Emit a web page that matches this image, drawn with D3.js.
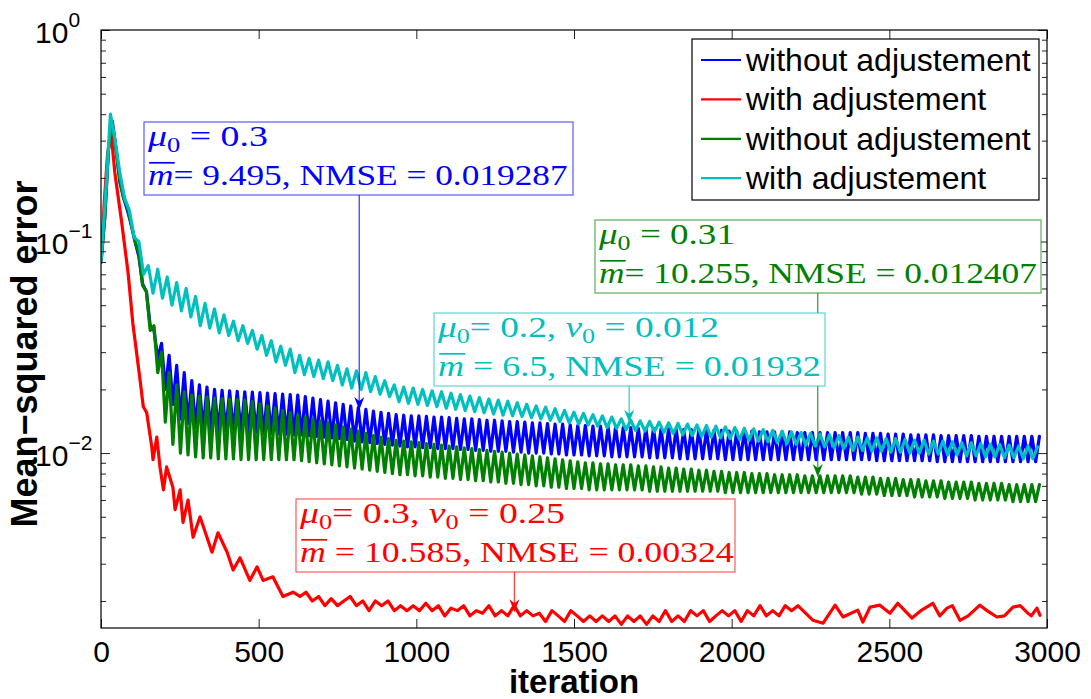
<!DOCTYPE html>
<html><head><meta charset="utf-8">
<script src="https://cdn.jsdelivr.net/npm/d3@7"></script>
<style>body{margin:0;background:#fff}</style>
</head><body>
<svg id="chart" width="1091" height="699"></svg>
<script>
// ---------------- DATA ----------------
const xTicks = [0, 500, 1000, 1500, 2000, 2500, 3000];
const yDecades = [0.01, 0.1, 1];
const yDecadeExp = ["\u22122", "\u22121", "0"];
const yDomain = [0.00149, 1];
const xDomain = [0, 3000];

const seriesNames = ["without adjustement", "with adjustement", "without adjustement", "with adjustement"];
const seriesColors = ["#0000ff", "#ff0000", "#008000", "#00bfbf"];

// blue: sampled every 12 iterations
const blueStep = 12;
const blueMSE = [0.080,0.13,0.28,0.37,0.27,0.19,0.16,0.14,0.12,0.10,0.085,0.063,0.058,0.040,
0.038,0.028,0.033,0.020,0.029,0.017,0.026,0.0145,0.024,0.0138,0.022,0.0132,0.021,0.0128,
0.0205,0.0128,0.0200,0.0127,0.0198,0.0127,0.0197,0.0126,0.0196,0.0126,0.0195,0.0125,0.0194,0.0125,0.0193,0.0124,0.0192,0.0124,0.0191,0.0123,0.0190,0.0123,0.0189,0.0122,0.0188,0.0122,
0.0185,0.0121,0.0182,0.0120,0.0179,0.0119,0.0176,0.0118,0.0173,0.0117,0.0170,0.0116,0.0167,0.0114,0.0164,0.0113,0.0161,0.0112,0.0158,0.0111,0.0156,0.0110,0.0154,0.0109,0.0152,0.0108,
0.0151,0.0107,0.0150,0.0107,0.0150,0.0106,0.0149,0.0106,0.0148,0.0105,0.0148,0.0105,0.0147,0.0105,0.0146,0.0104,0.0145,0.0104,0.0145,0.0103,0.0144,0.0103,0.0143,0.0102,0.0143,0.0102,0.0142,0.0102,0.0141,0.0101,0.0141,0.0101,0.0140,0.0100,0.0139,0.0100,0.0139,0.0100,0.0138,0.0099,0.0137,0.0099,0.0137,0.0098,0.0136,0.0098,0.0135,0.0098,0.0135,0.0097,0.0134,0.0097,0.0134,0.0097,0.0133,0.0096,0.0133,0.0096,0.0132,0.0096,0.0132,
0.0096,0.0131,0.0096,0.0131,0.0095,0.0131,0.0095,0.0130,0.0095,0.0130,0.0095,0.0130,0.0094,0.0129,0.0094,0.0129,0.0094,0.0129,0.0094,0.0128,0.0094,0.0128,0.0094,0.0128,0.0093,0.0127,0.0093,0.0127,0.0093,0.0127,0.0093,0.0127,0.0093,0.0126,0.0093,0.0126,0.0093,0.0126,0.0093,0.0126,0.0093,0.0126,0.0093,0.0125,0.0093,0.0125,0.0093,0.0125,0.0093,0.0125,0.0093,0.0125,0.0093,0.0125,0.0093,0.0125,0.0093,
0.0125,0.0093,0.0125,0.0093,0.0124,0.0093,0.0124,0.0092,0.0124,0.0092,0.0123,0.0092,0.0123,0.0092,0.0123,0.0092,0.0122,0.0092,0.0122,0.0092,0.0122,0.0092,0.0122,0.0091,0.0121,0.0091,0.0121,0.0091,0.0121,0.0091,0.0121,0.0091,0.0121,0.0091,0.0120,0.0091,0.0120,0.0091,0.0120,0.0091,0.0120,0.0091,0.0120,0.0091,0.0120,0.0091,0.0120,0.0091,0.0120,0.0091,0.0120];

// red: irregular samples
const redIter = [0,10,20,32,44,66,86,101,124,134,145,161,165,177,187,198,208,228,235,251,260,276,292,314,336,352,371,400,419,441,472,495,514,545,577,609,631,
650,670,690,710,730,750,770,790,810,830,850,870,890,910,930,950,970,990,1010,1030,1050,1070,1090,1110,1130,1150,1170,1190,1210,1230,1250,1270,1290,1310,1330,1350,1370,1390,1410,1430,1450,1470,1490,1510,1530,1550,1570,1590,1610,1630,1650,1670,1690,1710,1730,1750,1770,1790,1810,1830,1850,1870,1890,1910,1930,1950,1970,1990,2010,2030,2050,2070,2090,2110,2130,2150,2170,2190,2210,
2258,2290,2328,2353,2400,2416,2439,2470,2502,2527,2572,2600,2638,2660,2683,2700,2724,2750,2787,2810,2841,2865,2892,2915,2936,2950,2968,2978];
const redMSE = [0.080,0.15,0.25,0.325,0.211,0.122,0.071,0.041,0.0221,0.0166,0.0155,0.0107,0.0093,0.0119,0.0086,0.0067,0.0086,0.0069,0.0054,0.0067,0.0047,0.0060,0.0040,0.0050,0.0040,0.0034,0.0042,0.0034,0.0028,0.0032,0.0025,0.0029,0.0025,0.0026,0.0021,0.0022,0.0021,
0.0022,0.0020,0.0021,0.0019,0.00205,0.0019,0.0020,0.0021,0.0019,0.0020,0.0018,0.0020,0.0019,0.0020,0.0018,0.0019,0.0018,0.0019,0.0018,0.00195,0.0018,0.0019,0.0017,0.00185,0.0018,0.0019,0.0017,0.0018,0.00175,0.0019,0.0017,0.0018,0.0017,0.0019,0.0017,0.0018,0.0017,0.00175,0.0016,0.0018,0.0017,0.0016,0.0018,0.0017,0.0016,0.0017,0.0016,0.0017,0.0016,0.0017,0.00155,0.0017,0.0016,0.0017,0.00155,0.0017,0.0016,0.0018,0.0016,0.0017,0.0016,0.0018,0.0017,0.0018,0.0016,0.0017,0.0018,0.0017,0.0018,0.0016,0.0018,0.0017,0.0019,0.0017,0.0018,0.0017,0.0019,0.0018,0.0019,
0.00162,0.00157,0.00191,0.00168,0.00181,0.00159,0.00187,0.00191,0.00175,0.00195,0.00166,0.0018,0.00195,0.0017,0.00185,0.0019,0.00162,0.0017,0.00191,0.0018,0.00168,0.0017,0.00187,0.0019,0.00177,0.0017,0.00185,0.00171];

// green: sampled every 12 iterations
const greenStep = 12;
const greenMSE = [0.080,0.13,0.28,0.36,0.27,0.195,0.16,0.145,0.12,0.10,0.088,0.062,0.058,0.038,
0.040,0.024,0.030,0.014,0.024,0.011,0.021,0.0100,0.0195,0.0098,0.0188,0.0096,
0.0186,0.0095,0.0184,0.0095,0.0182,0.0094,0.0181,0.0094,0.0180,0.0094,0.0179,0.0093,0.0178,0.0093,
0.0175,0.0093,0.0171,0.0093,0.0167,0.0093,0.0163,0.0093,0.0159,0.0093,0.0155,0.0093,0.0151,0.0092,
0.0148,0.0091,0.0145,0.0090,0.0142,0.0089,0.0139,0.0088,0.0136,0.0087,0.0133,0.0086,0.0130,0.0085,0.0127,0.0084,0.0124,0.0083,0.0121,0.0082,0.0119,0.0081,0.0117,0.0080,0.0115,0.0079,
0.0114,0.0079,0.0113,0.0078,0.0112,0.0078,0.0111,0.0077,0.0110,0.0077,0.0109,0.0076,0.0108,0.0076,0.0107,0.0075,0.0106,0.0075,0.0105,0.0074,0.0104,0.0074,0.0103,0.0073,0.0102,0.0073,0.0101,0.0072,0.0100,0.0072,0.0099,0.0071,0.0098,0.0071,0.0097,0.0070,0.0096,0.0070,0.0095,0.0069,0.0094,0.0069,0.0093,0.0068,0.0092,0.0068,0.0091,0.0068,0.0090,0.0067,0.0090,0.0067,0.0089,0.0067,0.0089,0.0067,0.0088,0.0067,0.0088,0.0067,0.0088,
0.0067,0.0087,0.0067,0.0087,0.0066,0.0086,0.0066,0.0086,0.0066,0.0085,0.0066,0.0085,0.0066,0.0084,0.0066,0.0084,0.0066,0.0083,0.0066,0.0083,0.0066,0.0082,0.0066,0.0082,0.0065,0.0081,0.0065,0.0081,0.0065,0.0081,0.0065,0.0080,0.0065,0.0080,0.0065,0.0080,0.0065,0.0079,0.0065,0.0079,0.0065,0.0079,0.0065,0.0079,0.0065,0.0078,0.0065,0.0078,0.0065,0.0078,0.0065,0.0078,0.0065,0.0078,0.0065,0.0078,0.0065,
0.0078,0.0065,0.0077,0.0064,0.0077,0.0064,0.0077,0.0064,0.0076,0.0063,0.0076,0.0063,0.0076,0.0063,0.0075,0.0063,0.0075,0.0062,0.0075,0.0062,0.0074,0.0062,0.0074,0.0062,0.0074,0.0061,0.0073,0.0061,0.0073,0.0061,0.0073,0.0061,0.0073,0.0060,0.0072,0.0060,0.0072,0.0060,0.0072,0.0060,0.0072,0.0060,0.0071,0.0059,0.0071,0.0059,0.0071,0.0059,0.0071,0.0059,0.0071];

// cyan: sampled every 15 iterations
const cyanStep = 15;
const cyanMSE = [0.080,0.17,0.40,0.30,0.21,0.16,0.14,0.105,0.100,0.070,
0.077,0.057,0.074,0.054,0.068,0.050,0.064,0.047,0.060,0.044,0.055,0.040,0.051,0.039,0.048,0.037,0.045,0.036,0.042,0.034,0.040,0.033,0.038,0.031,0.036,0.029,0.034,0.027,0.032,0.026,0.031,0.024,
0.029,0.0235,0.028,0.023,0.0275,0.0225,0.027,0.022,0.026,0.021,0.025,0.0203,0.0245,0.020,0.024,0.0195,0.023,0.019,0.022,0.0185,0.021,0.0175,0.0205,0.0172,0.0203,0.0170,
0.0200,0.0168,0.0197,0.0166,0.0195,0.0163,0.0192,0.0161,0.0189,0.0159,0.0186,0.0157,0.0183,0.0155,0.0180,0.0153,0.0178,0.0151,0.0176,0.0150,0.0173,0.0149,0.0170,0.0147,0.0167,0.0145,0.0165,0.0143,0.0162,0.0141,0.0159,0.0139,0.0156,0.0137,0.0154,0.0136,0.0152,0.0134,0.0150,0.0132,0.0148,0.0131,0.0145,0.0129,0.0143,0.0128,0.0142,0.0127,0.0141,0.0126,
0.0140,0.0125,0.0139,0.0124,0.0138,0.0122,0.0137,0.0121,0.0136,0.0120,0.0135,0.0119,0.0134,0.0118,0.0133,0.0117,0.0132,0.0116,0.0131,0.0115,0.0130,0.0114,0.0129,0.0113,0.0128,0.0112,0.0127,0.0111,0.0126,0.0110,0.0125,0.0109,0.0124,0.0108,0.0123,0.0107,0.0122,0.0106,0.0121,0.0105,0.0119,0.0103,
0.0119,0.0103,0.0118,0.0102,0.0118,0.0102,0.0117,0.0101,0.0117,0.0101,0.0116,0.0100,0.0115,0.0100,0.0115,0.0099,0.0114,0.0099,0.0114,0.0098,0.0113,0.0098,0.0112,0.0097,0.0112,0.0097,0.0111,0.0096,0.0110,0.0096,0.0110,0.0095,0.0109,0.0095,0.0108,0.0094,0.0108,0.0094,0.0107];

// annotations (text boxes with arrows pointing at a data point)
const annoColors = ["#0000ff", "#008000", "#00bfbf", "#ff0000"];
const annoTipIter = [819, 2273, 1675, 1311];
const annoTipMSE = [0.0160, 0.0077, 0.0139, 0.00177];
// segments: [text, style] ; style: "i" italic, "s" subscript, "o" italic+overline, "" roman
const annoLine1 = [
  [["\u03bc","i"],["0","s"],[" = 0.3",""]],
  [["\u03bc","i"],["0","s"],[" = 0.31",""]],
  [["\u03bc","i"],["0","s"],["= 0.2, ",""],["\u03bd","i"],["0","s"],[" = 0.012",""]],
  [["\u03bc","i"],["0","s"],["= 0.3, ",""],["\u03bd","i"],["0","s"],[" = 0.25",""]]
];
const annoLine2 = [
  [["m","o"],["= 9.495, NMSE = 0.019287",""]],
  [["m","o"],["= 10.255, NMSE = 0.012407",""]],
  [["m","o"],[" = 6.5, NMSE = 0.01932",""]],
  [["m","o"],[" = 10.585, NMSE = 0.00324",""]]
];

// ---------------- DRAWING ----------------
const svg = d3.select("#chart");
const M = {left: 101, top: 30, right: 1047, bottom: 628};
const SANS = "'Liberation Sans', Arial, Helvetica, sans-serif";
const SERIF = "'Liberation Serif', 'Times New Roman', serif";

const x = d3.scaleLinear().domain(xDomain).range([M.left, M.right]);
const y = d3.scaleLog().domain(yDomain).range([M.bottom, M.top]);

svg.append("rect").attr("width",1091).attr("height",699).attr("fill","#fff");

svg.append("defs").append("clipPath").attr("id","plotclip")
  .append("rect").attr("x",M.left).attr("y",M.top).attr("width",M.right-M.left).attr("height",M.bottom-M.top);

// series
const blueData = blueMSE.map((v,i)=>[i*blueStep, v]);
const redData = redMSE.map((v,i)=>[redIter[i], v]);
const greenData = greenMSE.map((v,i)=>[i*greenStep, v]);
const cyanData = cyanMSE.map((v,i)=>[i*cyanStep, v]);
const allSeries = [blueData, redData, greenData, cyanData];

const line = d3.line().x(d=>x(d[0])).y(d=>y(d[1]));
const gLines = svg.append("g").attr("clip-path","url(#plotclip)");
allSeries.forEach((s,k)=>{
  gLines.append("path").datum(s).attr("d",line).attr("fill","none")
    .attr("stroke",seriesColors[k]).attr("stroke-width",3.2)
    .attr("stroke-linejoin","round").attr("stroke-linecap","round");
});

// axes
function styleAxis(g){ g.select(".domain").remove(); g.selectAll("line").attr("stroke","#222").attr("stroke-width",1); }
const gxB = svg.append("g").attr("transform",`translate(0,${M.bottom})`)
  .call(d3.axisBottom(x).tickValues(xTicks).tickSizeInner(-9).tickSizeOuter(0).tickPadding(13).tickFormat(d3.format("d")));
styleAxis(gxB);
gxB.attr("font-size",30).attr("font-family",SANS);
gxB.selectAll("text").attr("fill","#000");
const gxT = svg.append("g").attr("transform",`translate(0,${M.top})`)
  .call(d3.axisTop(x).tickValues(xTicks).tickSizeInner(-9).tickSizeOuter(0).tickFormat(""));
styleAxis(gxT);

const minorVals = [];
[0.001,0.01,0.1].forEach(d=>{ for(let k=2;k<=9;k++){ const v=d*k; if(v>=yDomain[0]&&v<1) minorVals.push(v);} });
[["axisLeft",M.left],["axisRight",M.right]].forEach(([fn,px])=>{
  const gMaj = svg.append("g").attr("transform",`translate(${px},0)`)
    .call(d3[fn](y).tickValues(yDecades).tickSizeInner(-9).tickSizeOuter(0).tickFormat(""));
  styleAxis(gMaj);
  const gMin = svg.append("g").attr("transform",`translate(${px},0)`)
    .call(d3[fn](y).tickValues(minorVals).tickSizeInner(-5).tickSizeOuter(0).tickFormat(""));
  styleAxis(gMin);
});

svg.append("rect").attr("x",M.left).attr("y",M.top).attr("width",M.right-M.left).attr("height",M.bottom-M.top)
  .attr("fill","none").attr("stroke","#000").attr("stroke-width",1.2);

// y decade labels
yDecades.forEach((v,i)=>{
  const t = svg.append("text").attr("x",35).attr("y",y(v)+12.5)
    .attr("font-family",SANS).attr("font-size",30).attr("fill","#000");
  t.append("tspan").text("10");
  t.append("tspan").attr("font-size",21).attr("dy",-16).text(yDecadeExp[i]);
});

// axis titles
svg.append("text").attr("x",(M.left+M.right)/2).attr("y",693).attr("text-anchor","middle")
  .attr("font-family",SANS).attr("font-weight","bold").attr("font-size",33).attr("fill","#000").text("iteration");
svg.append("text").attr("transform",`translate(37,${354}) rotate(-90)`).attr("text-anchor","middle")
  .attr("font-family",SANS).attr("font-weight","bold").attr("font-size",36).attr("fill","#000").text("Mean\u2212squared error");

// annotations
const boxes = [[144,122,429,73],[595,220,446,73],[434,313,391,73],[296,499,439,73]];
const line1W = [120,136,281,265];
const line2W = [420,438,383,434];
const FS = 30;
function drawLine(g, segs, x0, base, color, targetW){
  const lg = g.append("g");
  const t = lg.append("text").attr("x",x0).attr("y",base).attr("font-family",SERIF).attr("font-size",FS).attr("fill",color)
    .style("white-space","pre");
  let shifted = false;
  const overs = [];
  segs.forEach(([txt,st])=>{
    const ts = t.append("tspan").text(txt);
    if(st==="i"||st==="o") ts.attr("font-style","italic");
    if(st==="s"){ ts.attr("font-size",FS*0.7).attr("dy",6); shifted=true; }
    else if(shifted){ ts.attr("dy",-6); shifted=false; }
    if(st==="o") overs.push(ts);
  });
  const nat = t.node().getComputedTextLength();
  const sx = targetW/nat;
  lg.attr("transform",`translate(${x0},0) scale(${sx},1) translate(${-x0},0)`);
  overs.forEach(ts=>{
    const n = ts.node();
    const sx0 = n.getStartPositionOfChar(0).x;
    const w = n.getComputedTextLength();
    lg.append("line").attr("x1",sx0+1).attr("x2",sx0+w+1).attr("y1",base-FS*0.74).attr("y2",base-FS*0.74)
      .attr("stroke",color).attr("stroke-width",1.7);
  });
}
boxes.forEach((b,i)=>{
  const c = annoColors[i];
  const g = svg.append("g");
  const tx = x(annoTipIter[i]), ty = y(annoTipMSE[i]);
  g.append("line").attr("x1",tx).attr("x2",tx).attr("y1",b[1]+b[3]).attr("y2",ty-4)
    .attr("stroke",c).attr("stroke-opacity",0.75).attr("stroke-width",1.3);
  g.append("path").attr("d",`M${tx},${ty} L${tx-5},${ty-13} L${tx},${ty-9} L${tx+5},${ty-13} Z`).attr("fill",c);
  g.append("rect").attr("x",b[0]).attr("y",b[1]).attr("width",b[2]).attr("height",b[3])
    .attr("fill","#fff").attr("stroke",c).attr("stroke-opacity",0.65).attr("stroke-width",1.2);
  drawLine(g, annoLine1[i], b[0]+4, b[1]+24, c, line1W[i]);
  drawLine(g, annoLine2[i], b[0]+4, b[1]+63, c, line2W[i]);
});

// legend
const L = {x:692, y:39, w:347, h:161};
const lg = svg.append("g");
lg.append("rect").attr("x",L.x).attr("y",L.y).attr("width",L.w).attr("height",L.h).attr("fill","#fff").attr("stroke","#000").attr("stroke-width",1.2);
seriesNames.forEach((nm,i)=>{
  const ry = 60 + i*39.4;
  lg.append("line").attr("x1",701).attr("x2",741).attr("y1",ry).attr("y2",ry).attr("stroke",seriesColors[i]).attr("stroke-width",2.2);
  lg.append("text").attr("x",746).attr("y",ry+11).attr("font-family",SANS).attr("font-size",32).attr("fill","#000").text(nm);
});
</script>
</body></html>
